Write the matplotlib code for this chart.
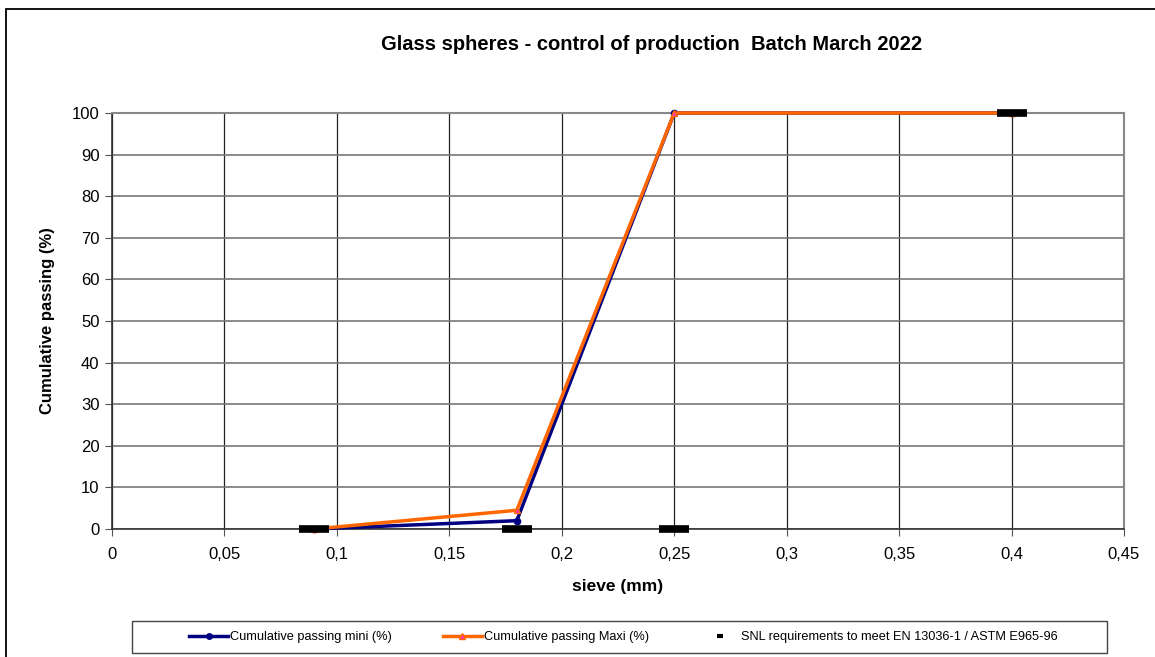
import matplotlib
matplotlib.use('Agg')
import matplotlib.pyplot as plt
from matplotlib.lines import Line2D
from matplotlib.patches import Rectangle

plt.rcParams['font.family'] = ['Liberation Sans', 'DejaVu Sans']

# sieve sizes (mm) and cumulative passing (%)
sieve = [0.09, 0.18, 0.25, 0.4]
passing_mini = [0, 2, 100, 100]
passing_maxi = [0, 4.5, 100, 100]
snl_sieve = [0.09, 0.18, 0.25, 0.4]
snl_req = [0, 0, 0, 100]

W, H = 1155, 657
fig = plt.figure(figsize=(W / 100, H / 100), dpi=100)
ax = fig.add_axes([112 / W, 1 - 529 / H, (1124 - 112) / W, (529 - 113) / H])

# outer chart frame
fig.patches.append(Rectangle((6 / W, -0.1), 1.2, 1 - 9 / H + 0.1, transform=fig.transFigure,
                             fill=False, edgecolor='black', linewidth=1.3))
# legend box
fig.patches.append(Rectangle((132 / W, 1 - 653 / H), (1107 - 132) / W, 32 / H,
                             transform=fig.transFigure, fill=False,
                             edgecolor='#444444', linewidth=1.0))

ax.plot(sieve, passing_mini, color='#000080', linewidth=2.5, marker='o', markersize=4.5,
        markerfacecolor='#000080', markeredgecolor='#000080', zorder=3, clip_on=False)
ax.plot(sieve, passing_maxi, color='#ff6600', linewidth=2.5, marker='^', markersize=5,
        markerfacecolor='#ff33cc', markeredgecolor='#ff6600', zorder=4, clip_on=False)
ax.plot(snl_sieve, snl_req, linestyle='none', marker='_', markersize=21,
        markeredgewidth=5.5, color='black', zorder=5, clip_on=False)

ax.set_xlim(0, 0.45)
ax.set_ylim(0, 100)
ax.set_xticks([i * 0.05 for i in range(10)])
ax.set_yticks(range(0, 101, 10))
ax.xaxis.set_major_formatter(plt.FuncFormatter(
    lambda x, _: ('%g' % round(x, 2)).replace('.', ',')))
ax.tick_params(labelsize=12, direction='out', length=5, color='#555555', pad=4)
ax.tick_params(axis='x', pad=8)

ax.grid(True, axis='x', color='#222222', linewidth=0.9)
ax.grid(True, axis='y', color='#777777', linewidth=1.2)
ax.set_axisbelow(True)
for side in ['left', 'bottom']:
    ax.spines[side].set_color('#333333')
    ax.spines[side].set_linewidth(1.2)
for side in ['right', 'top']:
    ax.spines[side].set_color('#888888')
    ax.spines[side].set_linewidth(1.5)

ax.set_xlabel('sieve (mm)', fontsize=12.5, fontweight='bold', labelpad=12)
ax.set_ylabel('Cumulative passing (%)', fontsize=12, fontweight='bold', labelpad=12)
fig.text(652 / W, 1 - 45 / H, 'Glass spheres - control of production  Batch March 2022',
         ha='center', va='center', fontsize=14.5, fontweight='bold')

handles = [
    Line2D([], [], color='#000080', linewidth=2.5, marker='o', markersize=4),
    Line2D([], [], color='#ff6600', linewidth=2.5, marker='^', markersize=4,
           markerfacecolor='#ff33cc'),
    Line2D([], [], color='black', linestyle='none', marker='_', markersize=5,
           markeredgewidth=3),
]
labels = ['Cumulative passing mini (%)', 'Cumulative passing Maxi (%)',
          'SNL requirements to meet EN 13036-1 / ASTM E965-96']
leg = fig.legend(handles, labels, loc='center', ncol=3, fontsize=9.2,
                 bbox_to_anchor=(623 / W, 1 - 637 / H), frameon=False,
                 handlelength=3.1, handletextpad=0.1, columnspacing=4.0,
                 borderpad=0, borderaxespad=0)

fig.savefig('out.png', dpi=100)
